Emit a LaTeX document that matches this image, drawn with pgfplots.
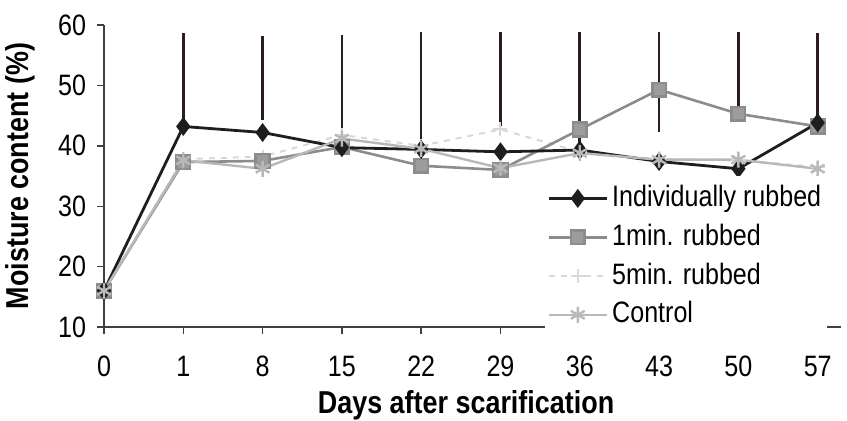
\documentclass[border=0pt]{standalone}
\usepackage{fontspec}
\setmainfont{Liberation Sans}[FakeStretch=0.85]
\usepackage{pgfplots}
\pgfplotsset{compat=1.18}
\definecolor{cind}{HTML}{1E1E1E}
\definecolor{cone}{HTML}{8C8C8C}
\definecolor{conefill}{HTML}{9C9C9C}
\definecolor{cfive}{HTML}{D8D8D8}
\definecolor{cctrl}{HTML}{B8B8B8}
\definecolor{cerr}{HTML}{2B1D1D}
\begin{document}
\begin{tikzpicture}
\useasboundingbox (-52bp,-47bp) rectangle (371.5bp,163.5bp);
\begin{axis}[
  at={(0,0)}, anchor=south west,
  scale only axis, width=368.75bp, height=151bp,
  xmin=0, xmax=9.3, ymin=10, ymax=60,
  xtick={0,...,9}, xticklabels={0,1,8,15,22,29,36,43,50,57},
  ytick={10,20,...,60},
  axis x line*=bottom, axis y line*=left,
  axis line style={-, line width=0.7bp, color=black!75},
  tick style={line width=0.7bp, color=black!75},
  major tick length=3.5bp,
  tick align=outside,
  xticklabel style={yshift=-7.5bp},
  yticklabel style={xshift=-2bp},
  /pgf/number format/assume math mode=true,
  font=\fontsize{14.8}{17}\selectfont,
  ticklabel style={font=\fontsize{14.8}{17}\selectfont},
  xlabel={\fontsize{15.9}{18}\selectfont\bfseries Days after scarification},
  ylabel={\fontsize{15.9}{18}\selectfont\bfseries Moisture content (\%)},
  xlabel style={at={(axis description cs:0.491,-0.258)}, anchor=center},
  ylabel style={at={(axis description cs:-0.114,0.5)}, anchor=center},
  clip=false,
  legend cell align=left,
  legend style={at={(rel axis cs:0.598,0.50)}, anchor=north west,
    fill=white, draw=none, inner xsep=1bp, inner ysep=2bp,
    font=\fontsize{14.8}{17}\selectfont,
    nodes={text height=11bp, text depth=3bp, inner sep=2bp},
    row sep=1.4bp},
  legend image code/.code={%
    \draw[mark repeat=2,mark phase=2] plot coordinates {(0bp,0bp) (14.5bp,0bp) (29bp,0bp)};},
]
\addlegendimage{cind, line width=1.4bp, mark=diamond*, mark size=3.6bp, mark options={solid, fill=cind}}
\addlegendentry{Individually rubbed}
\addlegendimage{cone, line width=1.3bp, mark=square*, mark size=3.4bp, mark options={solid, fill=conefill, draw=cone}}
\addlegendentry{1min. rubbed}
\addlegendimage{cfive, line width=1bp, dashed, mark=+, mark size=3.5bp, mark options={solid}}
\addlegendentry{5min. rubbed}
\addlegendimage{cctrl, line width=1.2bp, mark=asterisk, mark size=4bp, mark options={solid}}
\addlegendentry{Control}

% 5min rubbed
\addplot[forget plot, cfive, line width=1bp, dashed, mark=+, mark size=3.5bp, mark options={solid}]
  coordinates {(0,16) (1,37.8) (2,38.2) (3,41.8) (4,40.0) (5,42.7) (6,39.0) (7,37.8) (8,37.6) (9,36.5)};
% 1min rubbed
\addplot[forget plot, cone, line width=1.3bp, mark=square*, mark size=3.4bp, mark options={solid, fill=conefill, draw=cone}]
  coordinates {(0,16) (1,37.3) (2,37.5) (3,39.8) (4,36.7) (5,36.0) (6,42.7) (7,49.3) (8,45.3) (9,43.2)};
% Individually rubbed
\addplot[forget plot, cind, line width=1.4bp, mark=diamond*, mark size=3.6bp, mark options={solid, fill=cind}]
  coordinates {(0,16) (1,43.2) (2,42.2) (3,39.7) (4,39.4) (5,39.0) (6,39.3) (7,37.4) (8,36.2) (9,43.8)};
% Control
\addplot[forget plot, cctrl, line width=1.2bp, mark=asterisk, mark size=4bp, mark options={solid}]
  coordinates {(0,16) (1,37.6) (2,36.2) (3,41.2) (4,39.5) (5,36.3) (6,38.8) (7,37.7) (8,37.7) (9,36.2)};
% error bars (upward)
\addplot[forget plot, draw=none, mark=none,
  error bars/.cd, y dir=plus, y explicit, error mark=none,
  error bar style={line width=1.3bp, cerr}]
  coordinates {(1,43.2) +- (0,15.4) (2,44.3) +- (0,13.8) (3,39.8) +- (0,18.6)
               (4,39.2) +- (0,19.7) (5,43.3) +- (0,15.6) (6,38.0) +- (0,20.8)
               (7,42.3) +- (0,16.5) (8,44.3) +- (0,14.5) (9,43.8) +- (0,14.8)};
\end{axis}
\end{tikzpicture}
\end{document}
